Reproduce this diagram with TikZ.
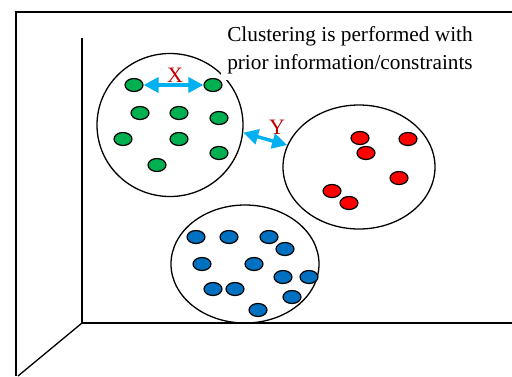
\documentclass[tikz,border=0pt]{standalone}
\usepackage{fontspec}
\setmainfont{Liberation Serif}
\usetikzlibrary{shapes.geometric,arrows.meta}

\definecolor{dotgreen}{RGB}{0,176,80}
\definecolor{dotred}{RGB}{255,0,0}
\definecolor{dotblue}{RGB}{0,112,192}
\definecolor{linkcyan}{RGB}{0,176,240}
\definecolor{tagred}{RGB}{192,0,0}

\tikzset{
  dot/.style={ellipse, draw=black, line width=1.2pt, minimum width=18pt, minimum height=13pt, inner sep=0pt},
  cluster/.style={ellipse, draw=black, line width=1.3pt, inner sep=0pt},
  walls/.style={draw=black, line width=1.3pt},
  link/.style={draw=linkcyan, line width=3.5pt, {Triangle[length=15pt,width=15pt]}-{Triangle[length=15pt,width=15pt]}},
  tag/.style={text=tagred, font=\fontsize{22}{22}\selectfont, inner sep=0pt},
}

\begin{document}
\begin{tikzpicture}[x=1pt, y=-1pt]
\useasboundingbox (0,0) rectangle (512,376);

% room
\draw[walls] (512,12) -- (16,12) -- (16,376);
\draw[walls] (82,38) -- (82,323) -- (512,323);
\draw[walls] (82,323) -- (18,376);

% clusters
\node[cluster, minimum width=146pt, minimum height=143pt](green) at (170,125) {};
\node[cluster, minimum width=152pt, minimum height=124pt](red) at (359,167) {};
\node[cluster, minimum width=148pt, minimum height=118pt](blue) at (245,264) {};

\node[align=center, fill=white, inner sep=6pt, font=\fontsize{21.3}{28}\selectfont](note) at (350,50) {Clustering is performed with\\prior information/constraints};

% green points
\node[dot, fill=dotgreen](g1) at (134,85) {};
\node[dot, fill=dotgreen](g2) at (213,85) {};
\node[dot, fill=dotgreen](g3) at (140,113) {};
\node[dot, fill=dotgreen](g4) at (179,113) {};
\node[dot, fill=dotgreen](g5) at (219,118) {};
\node[dot, fill=dotgreen](g6) at (123,139) {};
\node[dot, fill=dotgreen](g7) at (179,139) {};
\node[dot, fill=dotgreen](g8) at (219,153) {};
\node[dot, fill=dotgreen](g9) at (157,165) {};

% red points
\node[dot, fill=dotred](r1) at (360,138) {};
\node[dot, fill=dotred](r2) at (408,139) {};
\node[dot, fill=dotred](r3) at (366,153) {};
\node[dot, fill=dotred](r4) at (399,178) {};
\node[dot, fill=dotred](r5) at (332,191) {};
\node[dot, fill=dotred](r6) at (349,203) {};

% blue points
\node[dot, fill=dotblue](b1) at (196,237) {};
\node[dot, fill=dotblue](b2) at (229,237) {};
\node[dot, fill=dotblue](b3) at (269,237) {};
\node[dot, fill=dotblue](b4) at (285,249) {};
\node[dot, fill=dotblue](b5) at (202,264) {};
\node[dot, fill=dotblue](b6) at (254,264) {};
\node[dot, fill=dotblue](b7) at (283,277) {};
\node[dot, fill=dotblue](b8) at (309,277) {};
\node[dot, fill=dotblue](b9) at (213,289) {};
\node[dot, fill=dotblue](b10) at (235,289) {};
\node[dot, fill=dotblue](b11) at (292,297) {};
\node[dot, fill=dotblue](b12) at (258,310) {};

% constraints
\draw[link] (g1) -- (g2);
\draw[link] (green.-6) -- (red.163);
\node[tag](x) at (175,75) {X};
\node[tag](y) at (277,127) {Y};

\end{tikzpicture}
\end{document}
